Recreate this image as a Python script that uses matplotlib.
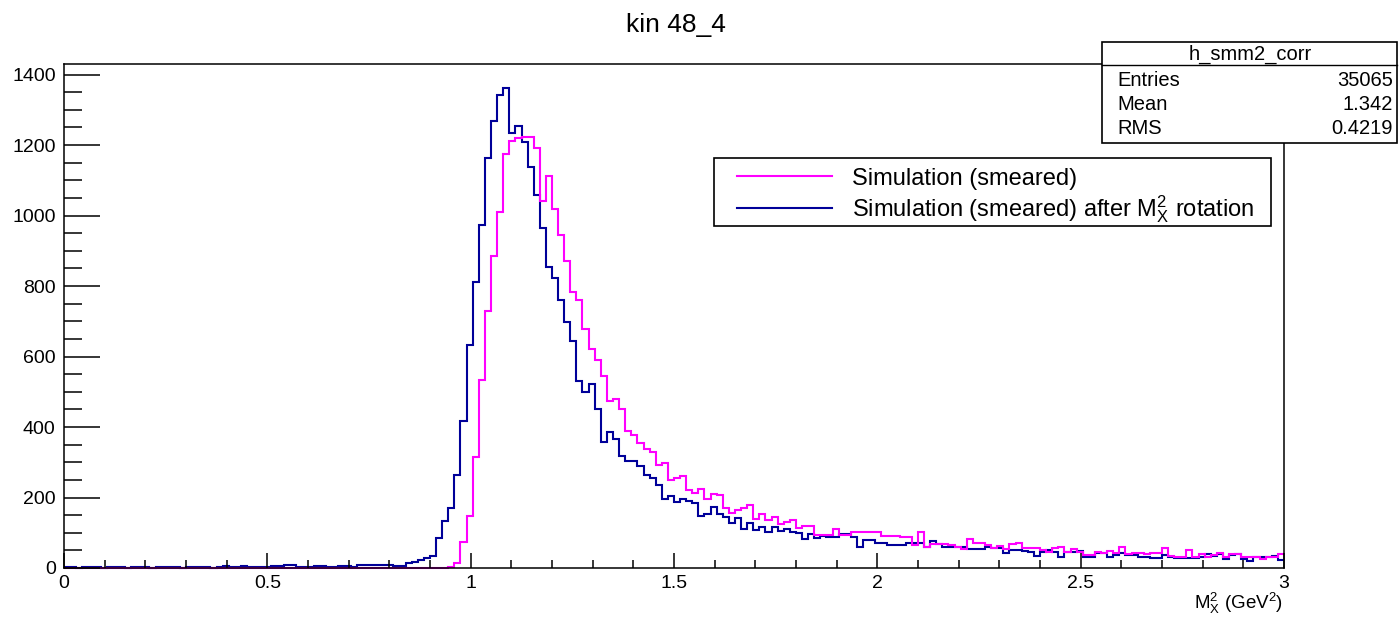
import numpy as np
import matplotlib
matplotlib.use("Agg")
import matplotlib.pyplot as plt
from matplotlib.ticker import MultipleLocator, FormatStrFormatter
from matplotlib.patches import Rectangle
from matplotlib.lines import Line2D

plt.rcParams['font.family'] = ['Liberation Sans', 'DejaVu Sans']
plt.rcParams['mathtext.fontset'] = 'custom'
plt.rcParams['mathtext.rm'] = 'Liberation Sans'
plt.rcParams['mathtext.it'] = 'Liberation Sans:italic'

# histogram binning: 200 bins on [0, 3]
x_lo, x_hi, n_bins = 0.0, 3.0, 200

# Simulation (smeared)
smeared = [
    0, 0, 0, 0, 0, 0, 0, 0, 0, 0,
    0, 0, 0, 0, 0, 0, 0, 0, 0, 0,
    0, 0, 0, 0, 0, 0, 0, 0, 0, 0,
    0, 0, 0, 0, 0, 0, 0, 0, 0, 0,
    0, 0, 0, 0, 0, 0, 0, 0, 0, 0,
    0, 0, 0, 0, 0, 0, 0, 0, 0, 0,
    0, 0, 0, 2, 15, 75, 147, 315, 533, 729,
    884, 1010, 1175, 1212, 1220, 1222, 1222, 1193, 1041, 1112,
    1020, 944, 870, 783, 761, 678, 620, 591, 545, 475,
    480, 452, 390, 377, 355, 339, 328, 293, 299, 251,
    254, 261, 221, 213, 223, 197, 210, 207, 169, 155,
    164, 169, 178, 138, 152, 136, 144, 125, 131, 136,
    113, 118, 118, 94, 95, 95, 110, 93, 93, 103,
    103, 103, 101, 102, 91, 91, 91, 87, 87, 65,
    103, 60, 68, 68, 68, 64, 60, 53, 83, 70,
    70, 65, 56, 63, 53, 68, 70, 56, 56, 56,
    50, 46, 57, 60, 46, 53, 46, 37, 37, 46,
    42, 48, 42, 60, 39, 42, 43, 39, 42, 42,
    56, 34, 32, 32, 51, 32, 40, 32, 37, 42,
    32, 39, 39, 30, 30, 30, 25, 32, 32, 39,
]

# Simulation (smeared) after Mx^2 rotation
rotated = [
    2, 3, 0, 3, 4, 2, 0, 3, 3, 2,
    0, 3, 4, 3, 0, 2, 3, 4, 3, 0,
    3, 4, 3, 4, 0, 4, 5, 4, 4, 5,
    4, 4, 4, 4, 7, 7, 8, 8, 4, 4,
    4, 6, 6, 4, 4, 6, 6, 4, 8, 8,
    8, 8, 8, 8, 6, 6, 15, 18, 23, 27,
    33, 84, 134, 169, 263, 416, 632, 811, 974, 1163,
    1269, 1342, 1362, 1235, 1255, 1210, 1137, 1059, 966, 855,
    822, 759, 697, 645, 531, 500, 523, 452, 358, 386,
    367, 317, 303, 304, 289, 263, 256, 235, 197, 204,
    188, 195, 191, 185, 147, 153, 172, 152, 145, 128,
    141, 112, 127, 108, 117, 103, 117, 105, 112, 103,
    100, 83, 96, 86, 91, 89, 89, 96, 96, 89,
    59, 79, 79, 72, 72, 64, 64, 66, 72, 72,
    72, 60, 77, 68, 59, 59, 59, 60, 53, 53,
    53, 60, 56, 56, 43, 51, 51, 49, 46, 34,
    44, 51, 46, 30, 46, 46, 49, 32, 32, 42,
    42, 32, 37, 42, 37, 37, 32, 32, 27, 27,
    37, 30, 27, 27, 27, 27, 32, 39, 34, 40,
    25, 37, 39, 25, 21, 30, 32, 32, 34, 23,
]

labels = ["Simulation (smeared)",
          r"Simulation (smeared) after $\mathrm{M}_{\mathrm{X}}^{2}$ rotation"]
colors = ["#ff00ff", "#000099"]
stats = [("Entries", "35065"), ("Mean", "1.342"), ("RMS", "0.4219")]
stat_name = "h_smm2_corr"

edges = np.linspace(x_lo, x_hi, n_bins + 1)

W, H = 1400, 620
fig = plt.figure(figsize=(W / 100, H / 100), dpi=100)
ax = fig.add_axes([64 / W, 52 / H, 1220 / W, 504 / H])

ax.stairs(rotated, edges, color=colors[1], lw=1.5, baseline=None, clip_on=False)
ax.stairs(smeared, edges, color=colors[0], lw=1.5, baseline=None, clip_on=False)

ax.set_xlim(x_lo, x_hi)
ax.set_ylim(0, 1430)
ax.xaxis.set_major_locator(MultipleLocator(0.5))
ax.xaxis.set_minor_locator(MultipleLocator(0.1))
ax.xaxis.set_major_formatter(FormatStrFormatter('%g'))
ax.yaxis.set_major_locator(MultipleLocator(200))
ax.yaxis.set_minor_locator(MultipleLocator(50))
ax.tick_params(which='both', direction='in', top=False, right=False, width=1.1)
ax.tick_params(axis='y', which='major', length=26, pad=6, labelsize=14)
ax.tick_params(axis='y', which='minor', length=13)
ax.tick_params(axis='x', which='major', length=11, pad=5, labelsize=14)
ax.tick_params(axis='x', which='minor', length=6)
for sp in ax.spines.values():
    sp.set_linewidth(1.1)

fig.text(676 / W, 1 - 32 / H, "kin 48_4", ha='center', va='baseline', fontsize=19)
fig.text(1283 / W, 1 - 609 / H, r"$\mathrm{M}_{\mathrm{X}}^{2}$ (GeV$^{2}$)",
         ha='right', va='baseline', fontsize=13.5)

# stats box
fig.patches.append(Rectangle((1102 / W, 1 - 143 / H), 295 / W, 101 / H,
                             transform=fig.transFigure, fill=True, fc='white',
                             ec='black', lw=1.2, zorder=5))
fig.lines.append(Line2D([1102 / W, 1397 / W], [1 - 65 / H, 1 - 65 / H],
                        transform=fig.transFigure, color='black', lw=1.0, zorder=6))
fig.text(1250 / W, 1 - 54 / H, stat_name, ha='center', va='center',
         fontsize=14.5, zorder=7)
for i, (k, v) in enumerate(stats):
    yy = 1 - (80 + 24 * i) / H
    fig.text(1117 / W, yy, k, ha='left', va='center', fontsize=14.5, zorder=7)
    fig.text(1393 / W, yy, v, ha='right', va='center', fontsize=14.5, zorder=7)

# legend box
fig.patches.append(Rectangle((714 / W, 1 - 226 / H), 557 / W, 68 / H,
                             transform=fig.transFigure, fc='white', ec='black',
                             lw=1.2, zorder=5))
for i, (lab, c) in enumerate(zip(labels, colors)):
    yc = 176 + 32 * i
    fig.lines.append(Line2D([737 / W, 832 / W], [1 - yc / H, 1 - yc / H],
                            transform=fig.transFigure, color=c, lw=1.5, zorder=6))
    fig.text(852 / W, 1 - (yc + 8.5) / H, lab, ha='left', va='baseline',
             fontsize=17, zorder=7)

fig.savefig("out.png", dpi=100)
